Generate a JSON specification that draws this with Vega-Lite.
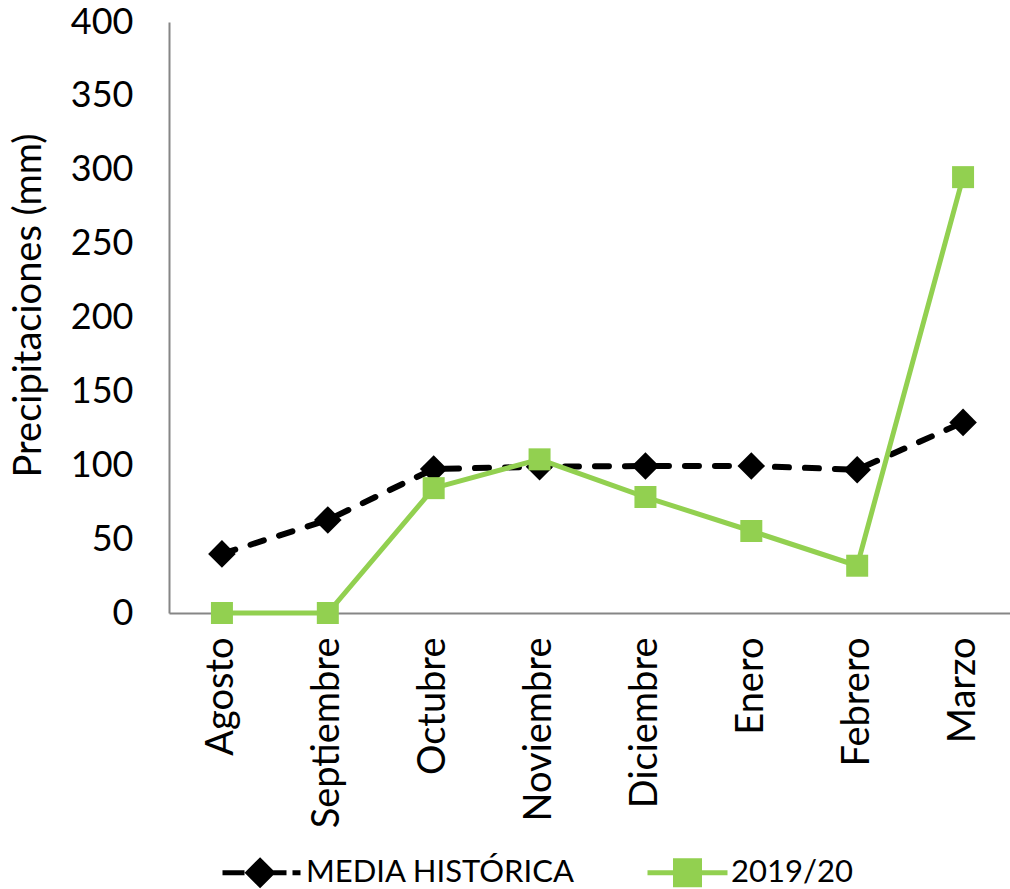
{
  "$schema": "https://vega.github.io/schema/vega-lite/v6.json",
  "width": 847,
  "height": 591,
  "autosize": {"type": "none"},
  "padding": {"left": 169, "top": 22, "right": 0, "bottom": 276},
  "config": {
    "view": {"stroke": null},
    "font": "Lato",
    "axis": {"labelFont": "Lato", "titleFont": "Lato", "labelColor": "#000000", "titleColor": "#000000", "domainColor": "#868686", "domainWidth": 2, "ticks": false, "grid": false, "labelLimit": 400}
  },
  "data": {
    "values": [
      {"mes": "Agosto", "serie": "MEDIA HISTÓRICA", "valor": 40},
      {"mes": "Septiembre", "serie": "MEDIA HISTÓRICA", "valor": 63},
      {"mes": "Octubre", "serie": "MEDIA HISTÓRICA", "valor": 97.5},
      {"mes": "Noviembre", "serie": "MEDIA HISTÓRICA", "valor": 99},
      {"mes": "Diciembre", "serie": "MEDIA HISTÓRICA", "valor": 99.5},
      {"mes": "Enero", "serie": "MEDIA HISTÓRICA", "valor": 99.5},
      {"mes": "Febrero", "serie": "MEDIA HISTÓRICA", "valor": 97},
      {"mes": "Marzo", "serie": "MEDIA HISTÓRICA", "valor": 129},
      {"mes": "Agosto", "serie": "2019/20", "valor": 0},
      {"mes": "Septiembre", "serie": "2019/20", "valor": 0},
      {"mes": "Octubre", "serie": "2019/20", "valor": 84.5},
      {"mes": "Noviembre", "serie": "2019/20", "valor": 104},
      {"mes": "Diciembre", "serie": "2019/20", "valor": 78.5},
      {"mes": "Enero", "serie": "2019/20", "valor": 55.5},
      {"mes": "Febrero", "serie": "2019/20", "valor": 32},
      {"mes": "Marzo", "serie": "2019/20", "valor": 295}
    ]
  },
  "encoding": {
    "x": {
      "field": "mes", "type": "nominal",
      "sort": ["Agosto", "Septiembre", "Octubre", "Noviembre", "Diciembre", "Enero", "Febrero", "Marzo"],
      "axis": {"title": null, "labelAngle": -90, "labelAlign": "right", "labelBaseline": "middle", "labelPadding": 24, "labelFontSize": 38, "labelLimit": 400}
    },
    "y": {
      "field": "valor", "type": "quantitative",
      "scale": {"domain": [0, 400]},
      "axis": {"values": [0, 50, 100, 150, 200, 250, 300, 350, 400], "labelPadding": 36, "labelFontSize": 36, "title": "Precipitaciones (mm)", "titleFontSize": 38, "titleFontWeight": "normal", "titlePadding": 22, "titleY": 283}
    }
  },
  "layer": [
    {
      "transform": [{"filter": "datum.serie === 'MEDIA HISTÓRICA'"}],
      "mark": {"type": "line", "color": "#000000", "strokeWidth": 6, "strokeDash": [14, 16], "strokeCap": "round"}
    },
    {
      "transform": [{"filter": "datum.serie === 'MEDIA HISTÓRICA'"}],
      "mark": {"type": "point", "shape": "diamond", "filled": true, "color": "#000000", "opacity": 1, "size": 760}
    },
    {
      "transform": [{"filter": "datum.serie === '2019/20'"}],
      "mark": {"type": "line", "color": "#92D050", "strokeWidth": 5}
    },
    {
      "transform": [{"filter": "datum.serie === '2019/20'"}],
      "mark": {"type": "square", "color": "#92D050", "opacity": 1, "size": 484, "cornerRadius": 2}
    },
    {
      "transform": [{"filter": "datum.valor < -1"}],
      "mark": {"type": "point", "filled": true},
      "encoding": {
        "shape": {
          "field": "serie", "type": "nominal",
          "scale": {"domain": ["MEDIA HISTÓRICA", "2019/20"], "range": ["M-1,0L-0.45,0M-0.06,-0.3L0.24,0L-0.06,0.3L-0.36,0ZM0.2,0L0.6,0M0.75,0L0.95,0", "M-1,0L1,0M-0.3,-0.3L0.3,-0.3L0.3,0.3L-0.3,0.3Z"]},
          "legend": {"title": null, "orient": "none", "legendX": 51, "legendY": 808, "direction": "horizontal", "symbolSize": 6400, "symbolStrokeWidth": 5, "symbolOpacity": 1, "labelFont": "Lato", "labelFontSize": 31, "labelColor": "#000000", "labelOffset": 1, "columnPadding": 62, "labelLimit": 400}
        },
        "fill": {"field": "serie", "type": "nominal", "scale": {"domain": ["MEDIA HISTÓRICA", "2019/20"], "range": ["#000000", "#92D050"]}},
        "stroke": {"field": "serie", "type": "nominal", "scale": {"domain": ["MEDIA HISTÓRICA", "2019/20"], "range": ["#000000", "#92D050"]}}
      }
    }
  ]
}
